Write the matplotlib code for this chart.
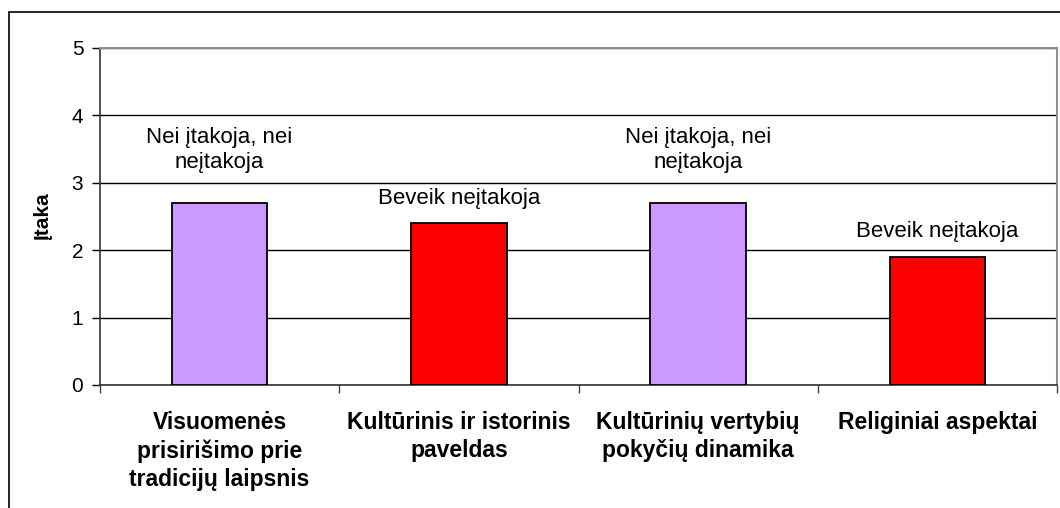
import matplotlib
matplotlib.use("Agg")
import matplotlib.pyplot as plt
from matplotlib.patches import Rectangle

categories = ["Visuomenės\nprisirišimo prie\ntradicijų laipsnis",
              "Kultūrinis ir istorinis\npaveldas",
              "Kultūrinių vertybių\npokyčių dinamika",
              "Religiniai aspektai"]
values = [2.7, 2.4, 2.7, 1.9]
labels = ["Nei įtakoja, nei\nneįtakoja", "Beveik neįtakoja",
          "Nei įtakoja, nei\nneįtakoja", "Beveik neįtakoja"]
colors = ["#CC99FF", "#FF0000", "#CC99FF", "#FF0000"]
yticks = [0, 1, 2, 3, 4, 5]

plt.rcParams['font.family'] = ['Liberation Sans', 'DejaVu Sans']

fig = plt.figure(figsize=(10.6, 5.08), dpi=100)
W, H = 1060, 508
ax = fig.add_axes([100 / W, (H - 385) / H, (1057 - 100) / W, (385 - 48) / H])

# figure border
fig.patches.append(Rectangle((9 / W, -0.1), 1.2, (H - 12) / H + 0.1, transform=fig.transFigure,
                             fill=False, edgecolor='black', linewidth=1.2, zorder=0))

x = list(range(len(categories)))
ax.bar(x, values, width=0.4, color=colors, edgecolor='black', linewidth=1.3, zorder=3)

for xi, v, lab in zip(x, values, labels):
    n = lab.count("\n") + 1
    ax.annotate(lab, (xi, v), xytext=(0, -3 + 28 * n), textcoords='offset pixels',
                ha='center', va='center', fontsize=16, linespacing=1.3)

ax.set_xlim(-0.5, len(categories) - 0.5)
ax.set_ylim(0, 5)
ax.set_yticks(yticks)
ax.set_yticklabels([str(t) for t in yticks], fontsize=15)
ax.yaxis.grid(True, color='black', linewidth=1.0, zorder=0)
ax.set_axisbelow(True)

ax.set_xticks(x)
ax.set_xticklabels(categories, fontsize=16.5, fontweight='bold', linespacing=1.28, va='top')
ax.set_xticks([i + 0.5 for i in range(-1, len(categories))], minor=True)
ax.tick_params(axis='x', which='major', length=0, pad=19)
ax.tick_params(axis='x', which='minor', length=6, width=1, direction='out', color='#444444')
ax.tick_params(axis='y', length=6, width=1, direction='out', pad=6)

ax.set_ylabel("Įtaka", fontsize=15, fontweight='bold', labelpad=14)

for s in ['top', 'right']:
    ax.spines[s].set_color('#909090')
    ax.spines[s].set_linewidth(1.5)
for s in ['left', 'bottom']:
    ax.spines[s].set_color('#333333')
    ax.spines[s].set_linewidth(1.2)

fig.savefig("out.png", dpi=100)
